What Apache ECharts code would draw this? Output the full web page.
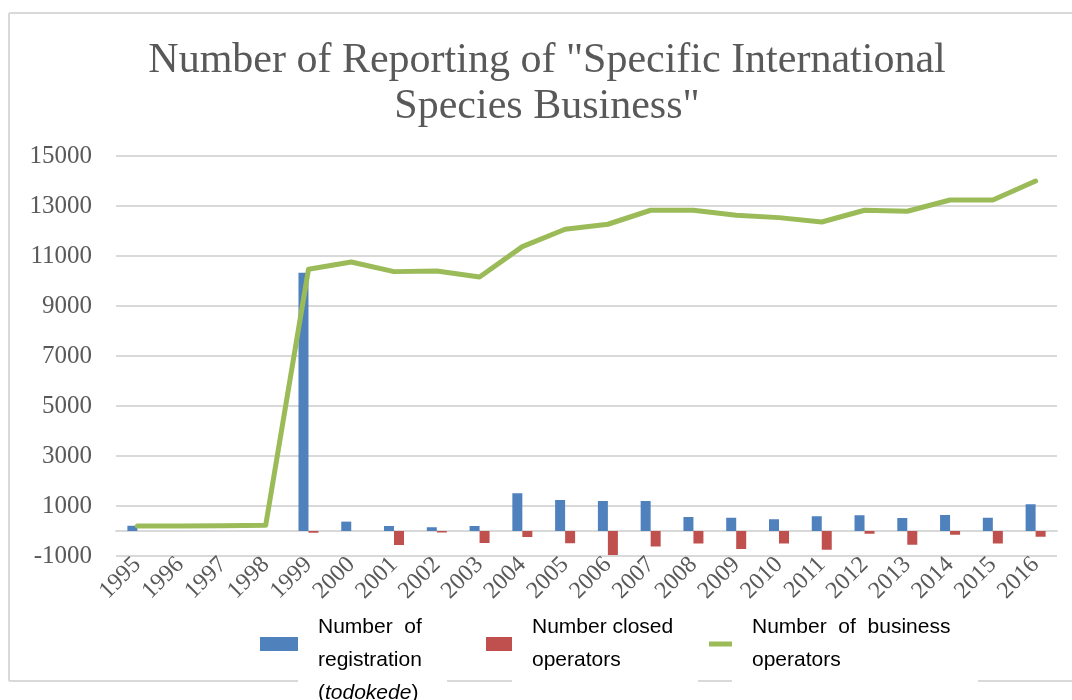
<!DOCTYPE html>
<html>
<head>
<meta charset="utf-8">
<script src="https://cdn.jsdelivr.net/npm/echarts@6/dist/echarts.min.js"></script>
<style>
  html, body { margin: 0; padding: 0; background: #fff; }
  #chart { width: 1072px; height: 700px; }
</style>
</head>
<body>
<div id="chart"></div>
<script>
// data
const years = ['1995', '1996', '1997', '1998', '1999', '2000', '2001', '2002', '2003', '2004', '2005',
  '2006', '2007', '2008', '2009', '2010', '2011', '2012', '2013', '2014', '2015', '2016']
const registrations = [210, null, null, null, 10330, 375, 200, 150, 200, 1510, 1240,
  1200, 1200, 560, 530, 470, 590, 630, 520, 640, 530, 1070]
const closedOperators = [null, null, null, null, -70, null, -560, -60, -480, -240, -490,
  -960, -620, -500, -720, -500, -750, -110, -550, -150, -500, -230]
const businessOperators = [200, 200, 210, 230, 10470, 10760, 10375, 10400, 10160, 11375, 12070,
  12270, 12830, 12830, 12630, 12535, 12360, 12830, 12790, 13240, 13240, 14000]
const yTicks = [-1000, 1000, 3000, 5000, 7000, 9000, 11000, 13000, 15000]

const serif = '"Liberation Serif", serif'
const sans = '"Liberation Sans", Arial, sans-serif'
const border = '#d9d9d9'

const legendText = {
  fontFamily: sans, fontSize: 21, color: '#000', lineHeight: 33,
  rich: {
    a: { fontFamily: sans, fontSize: 21, color: '#000', lineHeight: 33 },
    i: { fontFamily: sans, fontSize: 21, color: '#000', lineHeight: 33, fontStyle: 'italic' }
  }
}

const chart = echarts.init(document.getElementById('chart'))
chart.setOption({
  backgroundColor: '#fff',
  animation: false,
  title: {
    text: 'Number of Reporting of "Specific International\nSpecies Business"',
    left: 542,
    top: 33,
    textAlign: 'center',
    textStyle: { fontFamily: serif, fontSize: 42, fontWeight: 'normal', color: '#595959', lineHeight: 46 }
  },
  grid: { left: 116, right: 15, top: 156, bottom: 144, containLabel: false },
  legend: [
    {
      data: ['Number of registration (todokede)'],
      left: 260, top: 578, padding: 0, itemWidth: 38, itemHeight: 14, itemGap: 0,
      icon: 'rect',
      textStyle: Object.assign({ padding: [33, 0, 0, 15] }, legendText),
      formatter: () => '{a|Number  of}\n{a|registration}\n{a|(}{i|todokede}{a|)}'
    },
    {
      data: ['Number closed operators'],
      left: 486, top: 611, padding: 0, itemWidth: 26, itemHeight: 14,
      icon: 'rect',
      textStyle: Object.assign({ padding: [0, 0, 0, 15] }, legendText),
      formatter: () => '{a|Number closed}\n{a|operators}'
    },
    {
      data: ['Number of business operators'],
      left: 709, top: 611, padding: 0, itemWidth: 23, itemHeight: 5,
      icon: 'rect',
      textStyle: Object.assign({ padding: [0, 0, 0, 15] }, legendText),
      formatter: () => '{a|Number  of  business}\n{a|operators}'
    }
  ],
  xAxis: [
    {
      type: 'category',
      data: years,
      axisLine: { show: false, onZero: false },
      axisTick: { show: false },
      axisLabel: { rotate: 45, margin: 5, fontFamily: serif, fontSize: 24, color: '#595959', interval: 0 }
    },
    {
      type: 'category',
      data: years,
      position: 'bottom',
      axisLine: { show: true, onZero: true, lineStyle: { color: border, width: 2 } },
      axisTick: { show: false },
      axisLabel: { show: false },
      splitLine: { show: false }
    }
  ],
  yAxis: {
    type: 'value',
    min: -1000,
    max: 15000,
    axisLine: { show: false },
    axisTick: { show: false, customValues: yTicks },
    axisLabel: {
      customValues: yTicks, margin: 24, fontFamily: serif, fontSize: 25, color: '#595959',
      formatter: v => String(v)
    },
    splitLine: { show: true, lineStyle: { color: border, width: 2 } }
  },
  series: [
    {
      name: 'Number of registration (todokede)',
      type: 'bar',
      data: registrations,
      barWidth: 10,
      barGap: '0%',
      itemStyle: { color: '#4f81bd' }
    },
    {
      name: 'Number closed operators',
      type: 'bar',
      data: closedOperators,
      barWidth: 10,
      barGap: '0%',
      itemStyle: { color: '#c0504d' }
    },
    {
      name: 'Number of business operators',
      type: 'line',
      data: businessOperators,
      symbol: 'none',
      lineStyle: { color: '#9bbb59', width: 5, cap: 'round', join: 'round' },
      itemStyle: { color: '#9bbb59' },
      z: 3
    }
  ],
  graphic: [
    { type: 'line', shape: { x1: 9, y1: 13, x2: 1072, y2: 13 }, style: { stroke: border, lineWidth: 2 } },
    { type: 'line', shape: { x1: 9, y1: 13, x2: 9, y2: 681 }, style: { stroke: border, lineWidth: 2 } },
    { type: 'line', shape: { x1: 9, y1: 681, x2: 298, y2: 681 }, style: { stroke: border, lineWidth: 2 } },
    { type: 'line', shape: { x1: 447, y1: 681, x2: 512, y2: 681 }, style: { stroke: border, lineWidth: 2 } },
    { type: 'line', shape: { x1: 698, y1: 681, x2: 732, y2: 681 }, style: { stroke: border, lineWidth: 2 } },
    { type: 'line', shape: { x1: 978, y1: 681, x2: 1072, y2: 681 }, style: { stroke: border, lineWidth: 2 } }
  ]
})
</script>
</body>
</html>
